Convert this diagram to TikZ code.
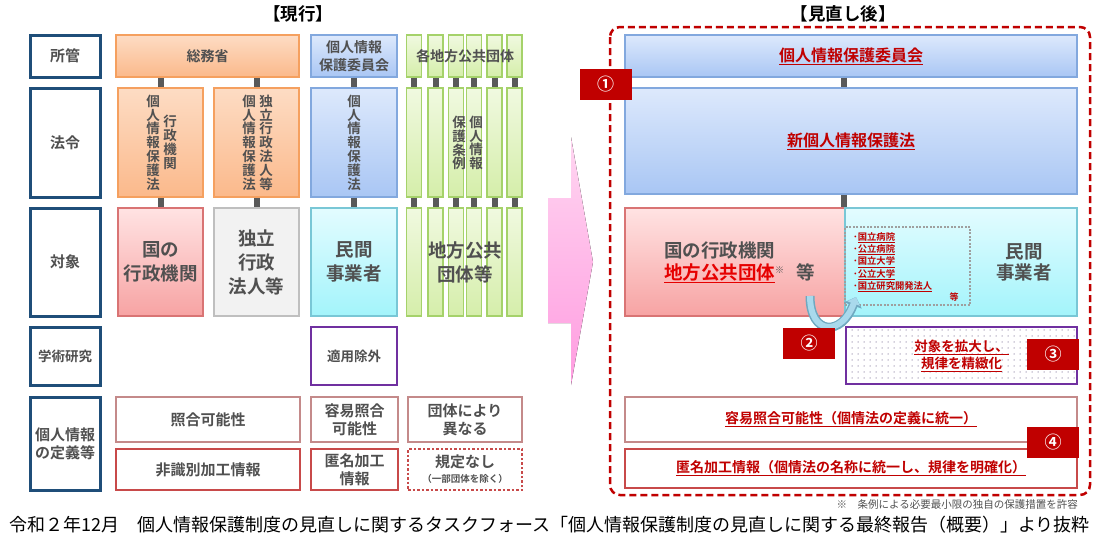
\documentclass[tikz,border=0pt]{standalone}
\usepackage{fontspec}
\setmainfont{Noto Sans CJK JP}[BoldFont={Noto Sans CJK JP Bold}]
\usepackage{xcolor}
\usetikzlibrary{arrows.meta,patterns.meta}

\newcommand{\fsz}[2]{\fontsize{#1}{#2}\selectfont}
\newcommand{\redul}[1]{\underline{#1}}

\definecolor{hdblue}{HTML}{1F4E79}
\definecolor{txtgray}{HTML}{505050}
\definecolor{orTop}{HTML}{FDDCC4}
\definecolor{orBot}{HTML}{FBB98B}
\definecolor{orLine}{HTML}{F5A05F}
\definecolor{blTop}{HTML}{DDE9FC}
\definecolor{blBot}{HTML}{A9C6F4}
\definecolor{blLine}{HTML}{82A8DE}
\definecolor{rdTop}{HTML}{FFE3E3}
\definecolor{rdBot}{HTML}{F7A3A3}
\definecolor{rdLine}{HTML}{D97474}
\definecolor{gyFill}{HTML}{F2F2F2}
\definecolor{gyLine}{HTML}{BFBFBF}
\definecolor{cyTop}{HTML}{E3FCFF}
\definecolor{cyBot}{HTML}{A3F4FB}
\definecolor{cyLine}{HTML}{79C7D6}
\definecolor{grTop}{HTML}{F0F9E0}
\definecolor{grBot}{HTML}{D5EEAA}
\definecolor{grLine}{HTML}{A5D26A}
\definecolor{darkred}{HTML}{C00000}
\definecolor{brightred}{HTML}{E60000}
\definecolor{purp}{HTML}{7030A0}
\definecolor{defLine}{HTML}{C48A8A}
\definecolor{defLineB}{HTML}{C84A4A}
\definecolor{connGray}{HTML}{595959}
\definecolor{pinkTop}{HTML}{FFD6F1}
\definecolor{pinkBot}{HTML}{FF9CE0}
\definecolor{arrFill}{HTML}{A9D9EC}
\definecolor{arrLine}{HTML}{6FA8C0}
\definecolor{dotGray}{HTML}{A8A0B8}

\tikzset{
  cell/.style={draw, line width=1.5, inner sep=0pt, align=center, text=txtgray,
    font=\bfseries\fsz{14}{18}},
  hdbox/.style={cell, draw=hdblue, line width=3, fill=white, font=\bfseries\fsz{15}{18}},
  orbox/.style={cell, draw=orLine, top color=orTop, bottom color=orBot},
  blbox/.style={cell, draw=blLine, top color=blTop, bottom color=blBot},
  rdbox/.style={cell, draw=rdLine, top color=rdTop, bottom color=rdBot},
  gybox/.style={cell, draw=gyLine, fill=gyFill},
  cybox/.style={cell, draw=cyLine, top color=cyTop, bottom color=cyBot},
  grbox/.style={cell, draw=grLine, top color=grTop, bottom color=grBot, minimum width=15},
  defbox/.style={cell, draw=defLine, line width=2.5, fill=white, font=\bfseries\fsz{15}{18}},
  defboxB/.style={defbox, draw=defLineB},
  numbox/.style={fill=darkred, text=white, inner sep=0pt, minimum width=52,
    minimum height=31, font=\bfseries\fsz{17}{17}},
  vtxt/.style={align=center, inner sep=0pt, text=txtgray, font=\bfseries\fsz{13.5}{13.8}},
  bigtxt/.style={align=center, inner sep=0pt, text=txtgray, font=\bfseries\fsz{18.5}{24}},
  redtxt/.style={text=darkred},
  conn/.style={draw=connGray, line width=6},
}

\begin{document}
\begin{tikzpicture}[x=1pt, y=-1pt]
\useasboundingbox (0,0) rectangle (1116,546);

% titles
\node[font=\bfseries\fsz{17.5}{17.5}] (titleNow) at (298,14) {【現行】};
\node[font=\bfseries\fsz{17.5}{17.5}] (titleNew) at (843,14) {【見直し後】};

% row headers
\node[hdbox, minimum width=70, minimum height=42] (hShokan) at (65,56) {所管};
\node[hdbox, minimum width=70, minimum height=109] (hHorei) at (65,142.5) {法令};
\node[hdbox, minimum width=70, minimum height=108] (hTaisho) at (65,262) {対象};
\node[hdbox, minimum width=70, minimum height=58, font=\bfseries\fsz{13.5}{16}] (hGakujutsu) at (65,356) {学術研究};
\node[hdbox, minimum width=70, minimum height=93] (hTeigi) at (65,443.5) {個人情報\\の定義等};

% current system: ministries
\node[orbox, minimum width=183, minimum height=42] (somu) at (207.5,56) {総務省};
\node[orbox, minimum width=85, minimum height=109] (lawGyosei) at (160.5,142.5) {};
\node[orbox, minimum width=85, minimum height=109] (lawDokuritsu) at (256.5,142.5) {};
\node[vtxt] (lawGyoseiA) at (153,142.5) {個\\人\\情\\報\\保\\護\\法};
\node[vtxt] (lawGyoseiB) at (170,142.5) {行\\政\\機\\関};
\node[vtxt] (lawDokuritsuA) at (249,142.5) {個\\人\\情\\報\\保\\護\\法};
\node[vtxt] (lawDokuritsuB) at (266,142.5) {独\\立\\行\\政\\法\\人\\等};
\node[blbox, minimum width=86, minimum height=42] (ppcL) at (354,56) {個人情報\\保護委員会};
\node[blbox, minimum width=86, minimum height=109] (lawKojin) at (354,142.5) {};
\node[vtxt] (lawKojinA) at (354,142.5) {個\\人\\情\\報\\保\\護\\法};

\node[rdbox, minimum width=85, minimum height=108, font=\bfseries\fsz{18.5}{24}] (tgtGyosei) at (160.5,262) {国の\\行政機関};
\node[gybox, minimum width=85, minimum height=108, font=\bfseries\fsz{18.5}{24}] (tgtDokuritsu) at (256.5,262) {独立\\行政\\法人等};
\node[cybox, minimum width=86, minimum height=108, font=\bfseries\fsz{18.5}{24}] (tgtMinkan) at (354,262) {民間\\事業者};

\draw[conn] (somu.south -| lawGyosei.north) -- (lawGyosei.north);
\draw[conn] (somu.south -| lawDokuritsu.north) -- (lawDokuritsu.north);
\draw[conn] (ppcL.south) -- (lawKojin.north);
\draw[conn] (lawGyosei.south) -- (tgtGyosei.north);
\draw[conn] (lawDokuritsu.south) -- (tgtDokuritsu.north);
\draw[conn] (lawKojin.south) -- (tgtMinkan.north);

% local governments, one strip each
\foreach \i/\x in {1/414,2/435.5,3/456,4/474,5/494.5,6/514.5} {
  \node[grbox, minimum height=42] (gTop\i) at (\x,56) {};
  \node[grbox, minimum height=109] (gMid\i) at (\x,142.5) {};
  \node[grbox, minimum height=108] (gBot\i) at (\x,262) {};
  \draw[conn] (gTop\i.south) -- (gMid\i.north);
  \draw[conn] (gMid\i.south) -- (gBot\i.north);
}
\node[inner sep=0pt, text=txtgray, font=\bfseries\fsz{14}{14}] (localGov) at (465,56) {各地方公共団体};
\node[vtxt] (joreiA) at (459,143) {保\\護\\条\\例};
\node[vtxt] (joreiB) at (476,143) {個\\人\\情\\報};
\node[bigtxt] (localTgt) at (465,262) {地方公共\\団体等};

\node[cell, draw=purp, line width=2.5, fill=white, minimum width=86, minimum height=58,
  font=\bfseries\fsz{13.5}{16}] (exempt) at (354,356) {適用除外};

% definitions, current
\node[defbox, minimum width=184, minimum height=45] (defShogo) at (208,419.5) {照合可能性};
\node[defboxB, minimum width=184, minimum height=41] (defHishiki) at (208,469.5) {非識別加工情報};
\node[defbox, minimum width=87, minimum height=45] (defYoi) at (354.5,419.5) {容易照合\\可能性};
\node[defboxB, minimum width=87, minimum height=41] (defTokumei) at (354.5,469.5) {匿名加工\\情報};
\node[defbox, minimum width=114, minimum height=45] (defDantai) at (465,419.5) {団体により\\異なる};
\node[defboxB, dotted, minimum width=114, minimum height=41] (defNashi) at (465,469.5) {規定なし\\[-3pt]{\fsz{9.5}{11}（一部団体を除く）}};

% arrow between the two halves
\fill[top color=pinkTop, bottom color=pinkBot] (548,198) -- (571,198) -- (571,137)
  -- (593,262) -- (571,385) -- (571,323) -- (548,323) -- cycle;

% after the review
\draw[darkred, line width=2.5, dash pattern=on 7pt off 4pt, rounded corners=10]
  (610,27) rectangle (1090,495);
\node[blbox, minimum width=452, minimum height=42, redtxt, font=\bfseries\fsz{16}{18}] (ppcR) at (851,56) {\redul{個人情報保護委員会}};
\node[blbox, minimum width=452, minimum height=106, redtxt, font=\bfseries\fsz{16}{18}] (newLaw) at (851,141) {\redul{新個人情報保護法}};
\node[rdbox, minimum width=220, minimum height=108] (tgtL) at (735,262) {};
\node[cybox, minimum width=232, minimum height=108] (tgtR) at (961,262) {};
\draw[conn] (ppcR.south -| tgtR.west) -- (newLaw.north -| tgtR.west);
\draw[conn] (newLaw.south -| tgtR.west) -- (tgtR.north west);

\node[anchor=west, align=left, inner sep=0pt, text=txtgray, font=\bfseries\fsz{18.5}{21.5}] (tgtLtxt) at (664,262.5)
  {国の行政機関\\{\color{brightred}\redul{地方公共団体}}\raisebox{6pt}{\mdseries\fsz{9}{9}※}\hspace{12pt}等};
\node[bigtxt, font=\bfseries\fsz{18.5}{21.5}] (minkanR) at (1024,262.5) {民間\\事業者};

\node[draw=gray!75, line width=1.2, dash pattern=on 2pt off 1.5pt, minimum width=125, minimum height=78] (kokuritsu) at (907.5,266) {};
\node[anchor=north west, align=left, inner sep=0pt, redtxt, font=\bfseries\fsz{9.3}{12.3}] (kokuritsuList) at (853,232)
  {･\redul{国立病院}\\･\redul{公立病院}\\･\redul{国立大学}\\･\redul{公立大学}\\･\redul{国立研究開発法人}};
\node[inner sep=0pt, redtxt, font=\bfseries\fsz{9}{9}] (kokuritsuEtc) at (954,297) {等};

% moving to the private side
\coordinate (moveFrom) at (810,296);
\coordinate (moveTo) at (856,297);
\draw[arrLine, line width=9, -{Triangle[length=9pt, width=18pt]}] (moveFrom) .. controls (810,336) and (842,336) .. (moveTo);
\draw[arrFill, line width=6, -{Triangle[length=7pt, width=13pt]}] (moveFrom) .. controls (810,336) and (842,336) .. (moveTo);

\node[draw=purp, line width=2.5, pattern={Dots[distance=6pt, radius=0.75pt]}, pattern color=dotGray,
  minimum width=231, minimum height=57, inner sep=0pt, align=center, redtxt, font=\bfseries\fsz{13.5}{17}] (kakudai) at (961.5,355.5)
  {\redul{対象を拡大し、}\\\redul{規律を精緻化}};

\node[defbox, minimum width=452, minimum height=45, redtxt, font=\bfseries\fsz{14}{16}] (defYoiR) at (851,419.5) {\redul{容易照合可能性（個情法の定義に統一）}};
\node[defboxB, minimum width=452, minimum height=39, redtxt, font=\bfseries\fsz{14}{16}] (defTokumeiR) at (851,468.5) {\redul{匿名加工情報（個情法の名称に統一し、規律を明確化）}};

% numbered markers
\node[numbox] (num1) at (605.5,84.5) {①};
\node[numbox] (num2) at (809,343.5) {②};
\node[numbox] (num3) at (1053,354.5) {③};
\node[numbox] (num4) at (1053,442.5) {④};

\node[anchor=east, inner sep=0pt, text=txtgray, font=\fsz{10.5}{12}] (note) at (1078,505) {※　条例による必要最小限の独自の保護措置を許容};
\node[anchor=west, inner sep=0pt, font=\fsz{18}{20}] (caption) at (9,525)
  {令和２年12月　個人情報保護制度の見直しに関するタスクフォース「個人情報保護制度の見直しに関する最終報告（概要）」より抜粋};
\end{tikzpicture}
\end{document}
